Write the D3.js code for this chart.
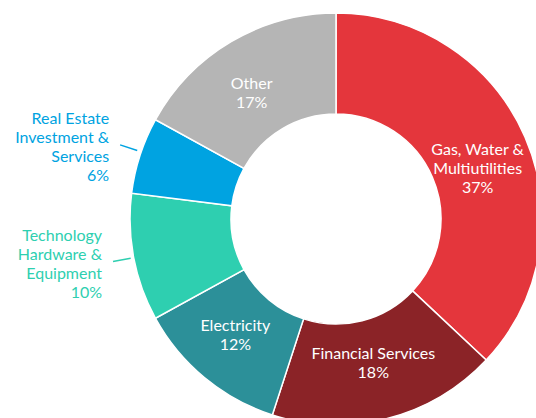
<!DOCTYPE html>
<html>
<head>
<meta charset="utf-8">
<script src="https://cdn.jsdelivr.net/npm/d3@7"></script>
<style>
  body { margin: 0; background: #fff; }
  svg text { font-family: Lato, "Open Sans", sans-serif; font-size: 16px; }
</style>
</head>
<body>
<div id="chart"></div>
<script>
// sectors, clockwise from 12 o'clock
var sectors = ["Gas, Water & Multiutilities", "Financial Services", "Electricity",
               "Technology Hardware & Equipment", "Real Estate Investment & Services", "Other"];
var shares = [37, 18, 12, 10, 6, 17];
var labelLines = [
  ["Gas, Water &", "Multiutilities"],
  ["Financial Services"],
  ["Electricity"],
  ["Technology", "Hardware &", "Equipment"],
  ["Real Estate", "Investment &", "Services"],
  ["Other"]
];
var colors = ["#e4363c", "#8b2327", "#2c9099", "#2ecfb0", "#00a3e1", "#b5b5b5"];
var outside = [false, false, false, true, true, false];

var width = 536, height = 418,
    cx = 336, cy = 219,
    rOuter = 206, rInner = 105,
    lineH = 19;

// hand tweaks for label placement (px)
var nudge = [[4, 10], [0, -1], [-5, 1], [0, 0], [0, -4], [-8, 4]];

var svg = d3.select("#chart").append("svg")
    .attr("width", width)
    .attr("height", height);

var g = svg.append("g")
    .attr("transform", "translate(" + cx + "," + cy + ")");

var data = sectors.map(function(s, i) {
  return {name: s, value: shares[i], lines: labelLines[i], color: colors[i], out: outside[i], i: i};
});

var pie = d3.pie().value(function(d) { return d.value; }).sort(null);
var arcs = pie(data);

var arc = d3.arc().innerRadius(rInner).outerRadius(rOuter);
var labelArc = d3.arc().innerRadius(150).outerRadius(150);

g.selectAll("path.slice")
  .data(arcs)
  .enter().append("path")
  .attr("class", "slice")
  .attr("d", arc)
  .attr("fill", function(d) { return d.data.color; })
  .attr("stroke", "#fff")
  .attr("stroke-width", 1.5);

function midAngle(d) { return (d.startAngle + d.endAngle) / 2; }
function polar(a, r) { return [Math.sin(a) * r, -Math.cos(a) * r]; }

// inside labels
arcs.filter(function(d) { return !d.data.out; }).forEach(function(d) {
  var c = labelArc.centroid(d), n = nudge[d.data.i];
  var lines = d.data.lines.concat([d.data.value + "%"]);
  var y0 = c[1] + n[1] - (lines.length - 1) * lineH / 2 + 5;
  var t = g.append("text")
    .attr("text-anchor", "middle")
    .attr("fill", "#fff");
  lines.forEach(function(l, k) {
    t.append("tspan").attr("x", c[0] + n[0]).attr("y", y0 + k * lineH).text(l);
  });
});

// outside labels with short leaders
arcs.filter(function(d) { return d.data.out; }).forEach(function(d) {
  var a = midAngle(d), n = nudge[d.data.i];
  var p1 = polar(a, rOuter + 3), p2 = polar(a, rOuter + 21);
  p1[1] += n[1]; p2[1] += n[1];
  g.append("line")
    .attr("x1", p1[0]).attr("y1", p1[1])
    .attr("x2", p2[0]).attr("y2", p2[1])
    .attr("stroke", d.data.color)
    .attr("stroke-width", 1.5);
  var lines = d.data.lines.concat([d.data.value + "%"]);
  var y0 = p2[1] - (lines.length - 1) * lineH / 2 + 8;
  var t = g.append("text")
    .attr("text-anchor", "end")
    .attr("fill", d.data.color);
  lines.forEach(function(l, k) {
    t.append("tspan").attr("x", p2[0] - 11).attr("y", y0 + k * lineH).text(l);
  });
});
</script>
</body>
</html>
